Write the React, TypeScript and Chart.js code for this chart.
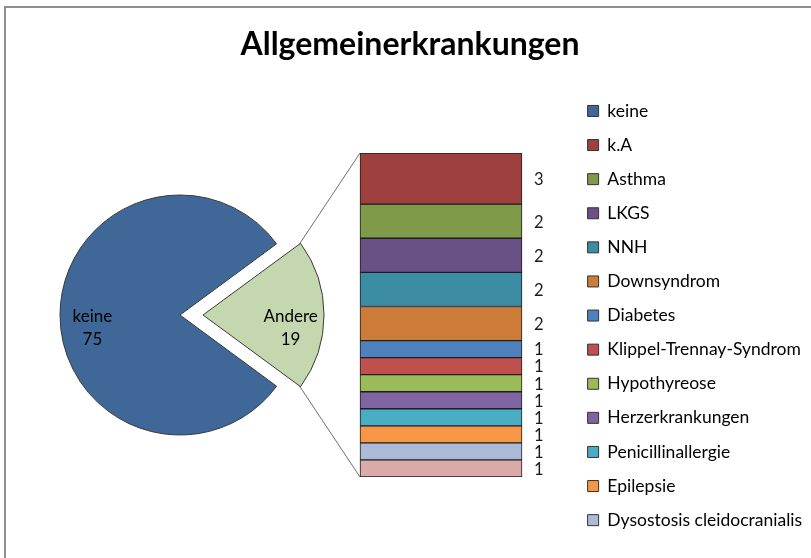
import React, { useEffect, useRef } from 'react';
import { Chart, registerables } from 'chart.js';

Chart.register(...registerables);

const TITLE = 'Allgemeinerkrankungen';

// Pie part
const pieLabels = ['keine', 'Andere'];
const pieValues = [75, 19];
const pieColors = ['#3F6797', '#C4D7AF'];

// Bar ("Andere" broken down)
const barLabels = [
  'k.A',
  'Asthma',
  'LKGS',
  'NNH',
  'Downsyndrom',
  'Diabetes',
  'Klippel-Trennay-Syndrom',
  'Hypothyreose',
  'Herzerkrankungen',
  'Penicillinallergie',
  'Epilepsie',
  'Dysostosis cleidocranialis',
  'Sonstige',
];
const barValues = [3, 2, 2, 2, 2, 1, 1, 1, 1, 1, 1, 1, 1];
const barColors = [
  '#9E413E',
  '#7F9A48',
  '#695185',
  '#3C8DA3',
  '#CC7B38',
  '#4F81BD',
  '#C0504D',
  '#9BBB59',
  '#8064A2',
  '#4BACC6',
  '#F79646',
  '#AABAD7',
  '#D9AAA9',
];
// number of bar categories whose legend row is visible in the picture
const legendBarCount = 12;

const FONT = "Lato, 'DejaVu Sans', sans-serif";

export default function App() {
  const barRef = useRef<HTMLCanvasElement | null>(null);
  const pieRef = useRef<HTMLCanvasElement | null>(null);

  useEffect(() => {
    if (!barRef.current || !pieRef.current) return;

    const othersIndex = pieLabels.indexOf('Andere');
    const pieTotal = pieValues.reduce((a, b) => a + b, 0);
    const before = pieValues.slice(0, othersIndex).reduce((a, b) => a + b, 0);
    // rotate so that "Andere" is centred on the 3 o'clock direction
    const rotation = 90 - (360 * before) / pieTotal - (180 * pieValues[othersIndex]) / pieTotal;

    const pieLabelPlugin = {
      id: 'pieLabels',
      afterDatasetsDraw(chart: any) {
        const ctx = chart.ctx;
        const meta = chart.getDatasetMeta(0);
        ctx.save();
        ctx.font = `17px ${FONT}`;
        ctx.fillStyle = '#000';
        ctx.textAlign = 'center';
        ctx.textBaseline = 'middle';
        meta.data.forEach((arc: any, i: number) => {
          const p = arc.getProps(['x', 'y', 'startAngle', 'endAngle', 'outerRadius'], true);
          const mid = (p.startAngle + p.endAngle) / 2;
          const shift = (arc.options.offset || 0) / 4 + p.outerRadius * 0.73;
          const cx = p.x + Math.cos(mid) * shift;
          const cy = p.y + Math.sin(mid) * shift + 13;
          ctx.fillText(chart.data.labels[i], cx, cy - 11.5);
          ctx.fillText(String(chart.data.datasets[0].data[i]), cx, cy + 11.5);
        });
        ctx.restore();
      },
    };

    const pie = new Chart(pieRef.current, {
      type: 'pie',
      data: {
        labels: pieLabels,
        datasets: [
          {
            data: pieValues,
            backgroundColor: pieColors,
            borderColor: '#3a3a3a',
            borderWidth: 1,
            offset: pieValues.map((_, i) => (i === othersIndex ? 92 : 0)),
          },
        ],
      },
      options: {
        responsive: false,
        animation: false,
        devicePixelRatio: 1,
        events: [],
        radius: 120,
        rotation,
        layout: { padding: 0 },
        plugins: {
          legend: { display: false },
          title: { display: false },
          tooltip: { enabled: false },
        },
      } as any,
      plugins: [pieLabelPlugin],
    });

    const connectorPlugin = {
      id: 'connectors',
      beforeDatasetsDraw(chart: any) {
        const arc: any = pie.getDatasetMeta(0).data[othersIndex];
        if (!arc) return;
        const pr = pie.canvas.getBoundingClientRect();
        const br = chart.canvas.getBoundingClientRect();
        const dx = pr.left - br.left;
        const dy = pr.top - br.top;
        const p = arc.getProps(['x', 'y', 'startAngle', 'endAngle', 'outerRadius'], true);
        const mid = (p.startAngle + p.endAngle) / 2;
        const tr = (arc.options.offset || 0) / 4;
        const cx = p.x + Math.cos(mid) * tr + dx;
        const cy = p.y + Math.sin(mid) * tr + dy;
        const a1 = { x: cx + Math.cos(p.startAngle) * p.outerRadius, y: cy + Math.sin(p.startAngle) * p.outerRadius };
        const a2 = { x: cx + Math.cos(p.endAngle) * p.outerRadius, y: cy + Math.sin(p.endAngle) * p.outerRadius };
        const first: any = chart.getDatasetMeta(0).data[0];
        const last: any = chart.getDatasetMeta(chart.data.datasets.length - 1).data[0];
        const f = first.getProps(['x', 'y', 'base', 'width'], true);
        const l = last.getProps(['x', 'y', 'base', 'width'], true);
        const ctx = chart.ctx;
        ctx.save();
        ctx.strokeStyle = '#6e6e6e';
        ctx.lineWidth = 1;
        ctx.beginPath();
        ctx.moveTo(a1.x, a1.y);
        ctx.lineTo(f.x - f.width / 2, Math.min(f.y, f.base));
        ctx.moveTo(a2.x, a2.y);
        ctx.lineTo(l.x - l.width / 2, Math.max(l.y, l.base));
        ctx.stroke();
        ctx.restore();
      },
    };

    const barValueLabels = {
      id: 'barValueLabels',
      afterDatasetsDraw(chart: any) {
        const ctx = chart.ctx;
        ctx.save();
        ctx.font = `16.5px ${FONT}`;
        ctx.fillStyle = '#1a1a1a';
        ctx.textAlign = 'left';
        ctx.textBaseline = 'middle';
        chart.data.datasets.forEach((ds: any, i: number) => {
          const el: any = chart.getDatasetMeta(i).data[0];
          if (!el) return;
          const p = el.getProps(['x', 'y', 'base', 'width'], true);
          ctx.fillText(String(ds.data[0]), p.x + p.width / 2 + 12, (p.y + p.base) / 2 + 1);
        });
        ctx.restore();
      },
    };

    const barTotal = barValues.reduce((a, b) => a + b, 0);

    const bar = new Chart(barRef.current, {
      type: 'bar',
      data: {
        labels: ['Andere'],
        datasets: barLabels.map((label, i) => ({
          label,
          data: [barValues[i]],
          backgroundColor: barColors[i],
          borderColor: '#1e1e1e',
          borderWidth: 1,
          borderSkipped: false,
          barThickness: 162,
        })),
      },
      options: {
        responsive: false,
        animation: false,
        devicePixelRatio: 1,
        events: [],
        layout: { padding: { left: 9, right: 0, top: 0, bottom: 0 } },
        scales: {
          x: {
            stacked: true,
            display: true,
            grid: { display: false },
            border: { display: false },
            ticks: { display: false },
            afterFit: (s: any) => {
              s.height = 81;
            },
          },
          y: {
            stacked: true,
            reverse: true,
            min: 0,
            max: barTotal,
            display: true,
            grid: { display: false },
            border: { display: false },
            ticks: { display: false },
            afterFit: (s: any) => {
              s.width = 302;
            },
          },
        },
        plugins: {
          tooltip: { enabled: false },
          title: {
            display: true,
            text: TITLE,
            color: '#000',
            font: { family: FONT, size: 32, weight: 'bold', lineHeight: 1.2 },
            padding: { top: 25, bottom: 89.6 },
          },
          legend: {
            display: true,
            position: 'right',
            align: 'start',
            maxWidth: 240,
            title: {
              display: true,
              text: '',
              font: { size: 10, lineHeight: 1 },
              padding: { top: 75.6, bottom: 0 },
            },
            labels: {
              font: { family: FONT, size: 17.5 },
              color: '#000',
              boxWidth: 11,
              boxHeight: 11,
              padding: 16.6,
              textAlign: 'left',
              generateLabels: () => {
                const items: any[] = [
                  {
                    text: pieLabels[0],
                    fillStyle: pieColors[0],
                    strokeStyle: '#333',
                    fontColor: '#000',
                    lineWidth: 1,
                    hidden: false,
                    datasetIndex: -1,
                  },
                ];
                barLabels.slice(0, legendBarCount).forEach((l, i) => {
                  items.push({
                    text: l,
                    fillStyle: barColors[i],
                    strokeStyle: '#333',
                    fontColor: '#000',
                    lineWidth: 1,
                    hidden: false,
                    datasetIndex: i,
                  });
                });
                return items;
              },
            },
          },
        },
      } as any,
      plugins: [connectorPlugin, barValueLabels],
    });

    return () => {
      bar.destroy();
      pie.destroy();
    };
  }, []);

  return (
    <div
      style={{
        position: 'absolute',
        left: 0,
        top: 0,
        width: 811,
        height: 558,
        overflow: 'hidden',
        background: '#fff',
      }}
    >
      <div
        style={{
          position: 'absolute',
          left: 4,
          top: 6,
          width: 840,
          height: 600,
          borderTop: '2px solid #8e8e8e',
          borderLeft: '2px solid #8e8e8e',
        }}
      />
      <canvas
        ref={barRef}
        width={811}
        height={558}
        style={{ position: 'absolute', left: 0, top: 0, width: 811, height: 558 }}
      />
      <canvas
        ref={pieRef}
        width={320}
        height={320}
        style={{ position: 'absolute', left: 20, top: 155, width: 320, height: 320 }}
      />
    </div>
  );
}
